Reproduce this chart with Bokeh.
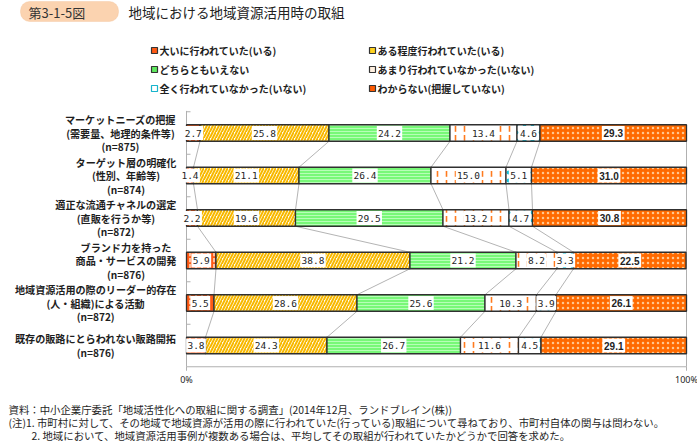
import numpy as np
from bokeh.plotting import figure
from bokeh.models import Range1d, ColumnDataSource, BoxAnnotation
from bokeh.core.properties import value
from bokeh.embed import file_html
from bokeh.resources import INLINE

# ---------------- data ----------------
title_no = "第3-1-5図"
title = "地域における地域資源活用時の取組"
series = [
    "大いに行われていた(いる)",
    "ある程度行われていた(いる)",
    "どちらともいえない",
    "あまり行われていなかった(いない)",
    "全く行われていなかった(いない)",
    "わからない(把握していない)",
]
categories = [
    ["マーケットニーズの把握", "(需要量、地理的条件等)", "(n=875)"],
    ["ターゲット層の明確化", "(性別、年齢等)", "(n=874)"],
    ["適正な流通チャネルの選定", "(直販を行うか等)", "(n=872)"],
    ["ブランド力を持った", "商品・サービスの開発", "(n=876)"],
    ["地域資源活用の際のリーダー的存在", "(人・組織)による活動", "(n=872)"],
    ["既存の販路にとらわれない販路開拓", "(n=876)"],
]
v_great = [2.7, 1.4, 2.2, 5.9, 5.5, 3.8]
v_some = [25.8, 21.1, 19.6, 38.8, 28.6, 24.3]
v_neutral = [24.2, 26.4, 29.5, 21.2, 25.6, 26.7]
v_little = [13.4, 15.0, 13.2, 8.2, 10.3, 11.6]
v_none = [4.6, 5.1, 4.7, 3.3, 3.9, 4.5]
v_unknown = [29.3, 31.0, 30.8, 22.5, 26.1, 29.1]
x_tick_labels = ["0%", "100%"]
x_tick_values = [0, 100]
notes = [
    "資料：中小企業庁委託「地域活性化への取組に関する調査」(2014年12月、ランドブレイン(株))",
    "(注)1. 市町村に対して、その地域で地域資源が活用の際に行われていた(行っている)取組について尋ねており、市町村自体の関与は問わない。",
    "2. 地域において、地域資源活用事例が複数ある場合は、平均してその取組が行われていたかどうかで回答を求めた。",
]

# ---------------- layout ----------------
W, H = 697, 441
X0PX, X100PX = 186, 686
PXU = (X100PX - X0PX) / 100.0
C0, PITCH = 132.5, 42.5
x_start = -X0PX / PXU
x_end = (W - X0PX) / PXU


def px2x(px):
    return x_start + px / PXU


def px2y(py):
    return (py - C0) / PITCH


p = figure(width=W, height=H, output_backend="svg", toolbar_location=None,
           x_range=Range1d(x_start, x_end),
           y_range=Range1d((H - C0) / PITCH, -C0 / PITCH),
           min_border=0, outline_line_color=None)
p.axis.visible = False
p.grid.visible = False
p.background_fill_color = "white"

CJK = value("Noto Sans CJK JP")
DARK = "#1e1e1e"

vals = np.array([v_great, v_some, v_neutral, v_little, v_none, v_unknown]).T
cum = np.cumsum(vals, axis=1)
left = cum - vals
rows = np.arange(len(categories))
bar_h = 16.5 / PITCH

# connectors between bars
sx0, sy0, sx1, sy1 = [], [], [], []
for i in range(len(rows) - 1):
    for k in range(5):
        sx0.append(cum[i, k]); sy0.append(rows[i] + bar_h / 2)
        sx1.append(cum[i + 1, k]); sy1.append(rows[i + 1] - bar_h / 2)
p.segment(x0=sx0, y0=sy0, x1=sx1, y1=sy1, line_color="#b4b4b4", line_width=1)

# frame
fy_top = -0.5 - 0.02
fy_bot = len(rows) - 0.5
p.segment(x0=[0, 0, 100], y0=[fy_top, fy_bot, rows[0] + bar_h / 2],
          x1=[0, 100, 100], y1=[fy_bot, fy_bot, fy_bot],
          line_color="#b0b0b0", line_width=1)
tick_y = list(np.arange(len(rows)) - 0.5)
p.segment(x0=[0] * len(tick_y), y0=tick_y, x1=[0.8] * len(tick_y), y1=tick_y,
          line_color="#b0b0b0", line_width=1)
p.segment(x0=x_tick_values, y0=[fy_bot] * 2, x1=x_tick_values,
          y1=[fy_bot + 4 / PITCH] * 2, line_color="#b0b0b0", line_width=1)

styles = [
    dict(fill_color="#ff5a14", hatch_pattern=":", hatch_color="#ffe0c8", hatch_scale=6, hatch_weight=1.5),
    dict(fill_color="#fffdf2", hatch_pattern="/", hatch_color="#f8b800", hatch_scale=6, hatch_weight=2),
    dict(fill_color="#78f878", hatch_pattern="-", hatch_color="#c8ffc8", hatch_scale=3, hatch_weight=0.8),
    dict(fill_color="white", hatch_pattern=":", hatch_color="#ff7a1e", hatch_scale=9, hatch_weight=1.6),
    dict(fill_color="white", hatch_pattern=".", hatch_color="#18c4dc", hatch_scale=8, hatch_weight=1.2),
    dict(fill_color="#ff6a00", hatch_pattern=".", hatch_color="#ffc890", hatch_scale=5, hatch_weight=1.2),
]
for k in range(6):
    src = ColumnDataSource(dict(y=rows, left=left[:, k], right=cum[:, k]))
    p.hbar(y="y", left="left", right="right", height=bar_h, source=src,
           line_color="#303030", line_width=1.3, **styles[k])

# value labels
for k in range(6):
    xc = (left[:, k] + cum[:, k]) / 2
    txt = [f"{v:.1f}" for v in vals[:, k]]
    if k < 5:
        wid = [5.6 * len(t) + 3 for t in txt]
    else:
        wid = [5.2 * len(t) + 2 for t in txt]
    src = ColumnDataSource(dict(x=xc, y=rows, w=wid, t=txt))
    p.rect(x="x", y="y", width="w", height=bar_h * 0.84, width_units="screen",
           source=src, fill_color="white", line_color=None)
    if k < 5:
        p.text(x="x", y="y", text="t", source=src, text_align="center", text_baseline="middle",
               text_font=value("DejaVu Sans Mono"), text_font_size="9.5px", text_color=DARK)
    else:
        p.text(x="x", y="y", text="t", source=src, text_align="center", text_baseline="middle",
               text_font=value("Liberation Sans"), text_font_style="bold",
               text_font_size="10px", text_color=DARK)

# category labels
FS = 10.1


def est_w(s):
    return sum(FS if ord(c) > 255 else 0.55 * FS for c in s)


lx, ly, lt = [], [], []
for i, lines in enumerate(categories):
    wmax = max(est_w(s) for s in lines)
    cx = px2x(176 - wmax / 2)
    n = len(lines)
    offs = [-13.5, 0, 13.5] if n == 3 else [-7, 7]
    for s, o in zip(lines, offs):
        lx.append(cx); ly.append(rows[i] + o / PITCH); lt.append(s)
p.text(x=lx, y=ly, text=lt, text_align="center", text_baseline="middle",
       text_font=CJK, text_font_style="bold", text_font_size=f"{FS}px", text_color=DARK)

# x tick labels
p.text(x=x_tick_values, y=[px2y(379)] * 2, text=x_tick_labels, text_align="center",
       text_baseline="middle", text_font=value("Noto Sans"), text_font_size="9px",
       text_color=DARK)

# legend
leg_fill = ["#ff5a14", "#ffd21e", "#5fe85f", "#fff0e0", "white", "#ff5a00"]
leg_line = ["#333333", "#333333", "#333333", "#333333", "#18b4cc", "#333333"]
mx = [px2x(154 if k % 2 == 0 else 372) for k in range(6)]
my = [px2y([50, 69, 88][k // 2]) for k in range(6)]
p.rect(x=mx, y=my, width=6, height=6, width_units="screen", height_units="screen",
       fill_color=leg_fill, line_color=leg_line, line_width=1.2)
tx = [px2x(159 if k % 2 == 0 else 377) for k in range(6)]
p.text(x=tx, y=my, text=series, text_align="left", text_baseline="middle",
       text_font=CJK, text_font_style="bold", text_font_size="10px", text_color=DARK)

# title
p.add_layout(BoxAnnotation(left=px2x(20), right=px2x(118), top=px2y(1), bottom=px2y(21),
                           fill_color="#fbd3b0", fill_alpha=1, line_color="#f2b88a",
                           line_width=1, border_radius=9, level="underlay"))
p.text(x=[px2x(28)], y=[px2y(11.5)], text=[title_no], text_align="left", text_baseline="middle",
       text_font=CJK, text_font_size="13px", text_color="#333333")
p.text(x=[px2x(128)], y=[px2y(11.5)], text=[title], text_align="left", text_baseline="middle",
       text_font=CJK, text_font_size="13.5px", text_color="#222222")

# notes
p.text(x=[px2x(8), px2x(8), px2x(31)], y=[px2y(409), px2y(422), px2y(434.5)], text=notes,
       text_align="left", text_baseline="middle", text_font=CJK,
       text_font_size="10.4px", text_color=DARK)

open("out.html", "w").write(file_html(p, INLINE))
